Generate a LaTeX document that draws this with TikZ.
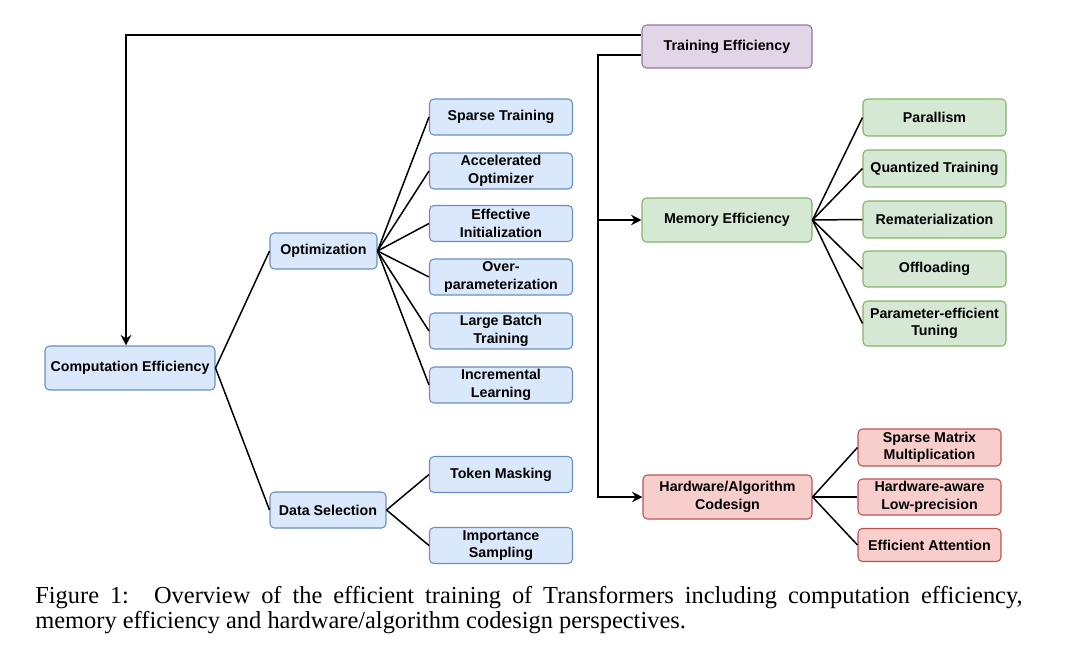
\documentclass[tikz,border=0pt]{standalone}
\usepackage{fontspec}
\setmainfont{Liberation Serif}
\setsansfont{Liberation Sans}
\usetikzlibrary{arrows.meta,positioning,calc}
\definecolor{bfill}{HTML}{DAE8FC}\definecolor{bdraw}{HTML}{6C8EBF}
\definecolor{gfill}{HTML}{D5E8D4}\definecolor{gdraw}{HTML}{82B366}
\definecolor{rfill}{HTML}{F8CECC}\definecolor{rdraw}{HTML}{B85450}
\definecolor{pfill}{HTML}{E1D5E7}\definecolor{pdraw}{HTML}{9673A6}
\tikzset{
  box/.style={rectangle, rounded corners=2.5pt, line width=0.6pt, align=center, inner sep=1pt,
    font=\sffamily\bfseries\fontsize{8.1}{10}\selectfont, text=black},
  bbox/.style={box, fill=bfill, draw=bdraw},
  gbox/.style={box, fill=gfill, draw=gdraw},
  rbox/.style={box, fill=rfill, draw=rdraw},
  pbox/.style={box, fill=pfill, draw=pdraw},
  link/.style={line width=0.85pt, black},
  arr/.style={link, -{Stealth[length=6pt,width=6pt,inset=2pt]}},
  captxt/.style={anchor=base west, inner sep=0pt, font=\fontsize{13.9}{14.2}\selectfont}
}
\begin{document}
\begin{tikzpicture}[x=0.02cm,y=-0.02cm]
\useasboundingbox (0,0) rectangle (1080,646);
% left tree
\node[bbox, minimum width=3.4cm, minimum height=0.88cm] (comp) at (130,368) {Computation Efficiency};
\node[bbox, minimum width=2.14cm, minimum height=0.72cm] (opt) at (323.5,251) {Optimization};
\node[bbox, minimum width=2.32cm, minimum height=0.72cm] (data) at (328,510) {Data Selection};
\node[bbox, minimum width=2.86cm, minimum height=0.72cm] (o1) at (501,117) {Sparse Training};
\node[bbox, minimum width=2.86cm, minimum height=0.72cm] (o2) at (501,171) {Accelerated\\Optimizer};
\node[bbox, minimum width=2.86cm, minimum height=0.72cm] (o3) at (501,223.5) {Effective\\Initialization};
\node[bbox, minimum width=2.86cm, minimum height=0.72cm] (o4) at (501,277) {Over-\\parameterization};
\node[bbox, minimum width=2.86cm, minimum height=0.72cm] (o5) at (501,331) {Large Batch\\Training};
\node[bbox, minimum width=2.86cm, minimum height=0.72cm] (o6) at (501,385) {Incremental\\Learning};
\node[bbox, minimum width=2.86cm, minimum height=0.72cm] (d1) at (501,474.5) {Token Masking};
\node[bbox, minimum width=2.86cm, minimum height=0.72cm] (d2) at (501,545.5) {Importance\\Sampling};
% right tree
\node[pbox, minimum width=3.4cm, minimum height=0.86cm] (train) at (727,46.5) {Training Efficiency};
\node[gbox, minimum width=3.4cm, minimum height=0.88cm] (mem) at (727,220) {Memory Efficiency};
\node[rbox, minimum width=3.38cm, minimum height=0.88cm] (hw) at (727.5,497) {Hardware/Algorithm\\Codesign};
\node[gbox, minimum width=2.86cm, minimum height=0.74cm] (m1) at (934.5,117.5) {Parallism};
\node[gbox, minimum width=2.86cm, minimum height=0.74cm] (m2) at (934.5,168.5) {Quantized Training};
\node[gbox, minimum width=2.86cm, minimum height=0.74cm] (m3) at (934.5,219.5) {Rematerialization};
\node[gbox, minimum width=2.86cm, minimum height=0.72cm] (m4) at (934.5,269) {Offloading};
\node[gbox, minimum width=2.86cm, minimum height=0.9cm] (m5) at (934.5,323.5) {Parameter-efficient\\Tuning};
\node[rbox, minimum width=2.86cm, minimum height=0.74cm] (h1) at (929.5,447.5) {Sparse Matrix\\Multiplication};
\node[rbox, minimum width=2.86cm, minimum height=0.72cm] (h2) at (929.5,497) {Hardware-aware\\Low-precision};
\node[rbox, minimum width=2.86cm, minimum height=0.66cm] (h3) at (929.5,545) {Efficient Attention};
% connectors
\draw[link] (comp.east) -- (opt.west);
\draw[link] (comp.east) -- (data.west);
\foreach \c in {o1,o2,o3,o4,o5,o6} \draw[link] (opt.east) -- (\c.west);
\foreach \c in {d1,d2} \draw[link] (data.east) -- (\c.west);
\foreach \c in {m1,m2,m3,m4,m5} \draw[link] (mem.east) -- (\c.west);
\foreach \c in {h1,h2,h3} \draw[link] (hw.east) -- (\c.west);
\coordinate (top) at (126,35);
\coordinate (spine) at (598,55);
\draw[arr] (train.west |- top) -- (top) -- (top |- comp.north);
\draw[arr] (train.west |- spine) -- (spine) |- (hw.west);
\draw[arr] (spine |- mem.west) -- (mem.west);
% caption
\node[captxt] (cap1) at (35,603) {\makebox[19.75cm][s]{Figure 1:\hspace{0.3em} Overview of the efficient training of Transformers including computation efficiency,}};
\node[captxt] (cap2) at (35,628) {memory efficiency and hardware/algorithm codesign perspectives.};
\end{tikzpicture}
\end{document}
